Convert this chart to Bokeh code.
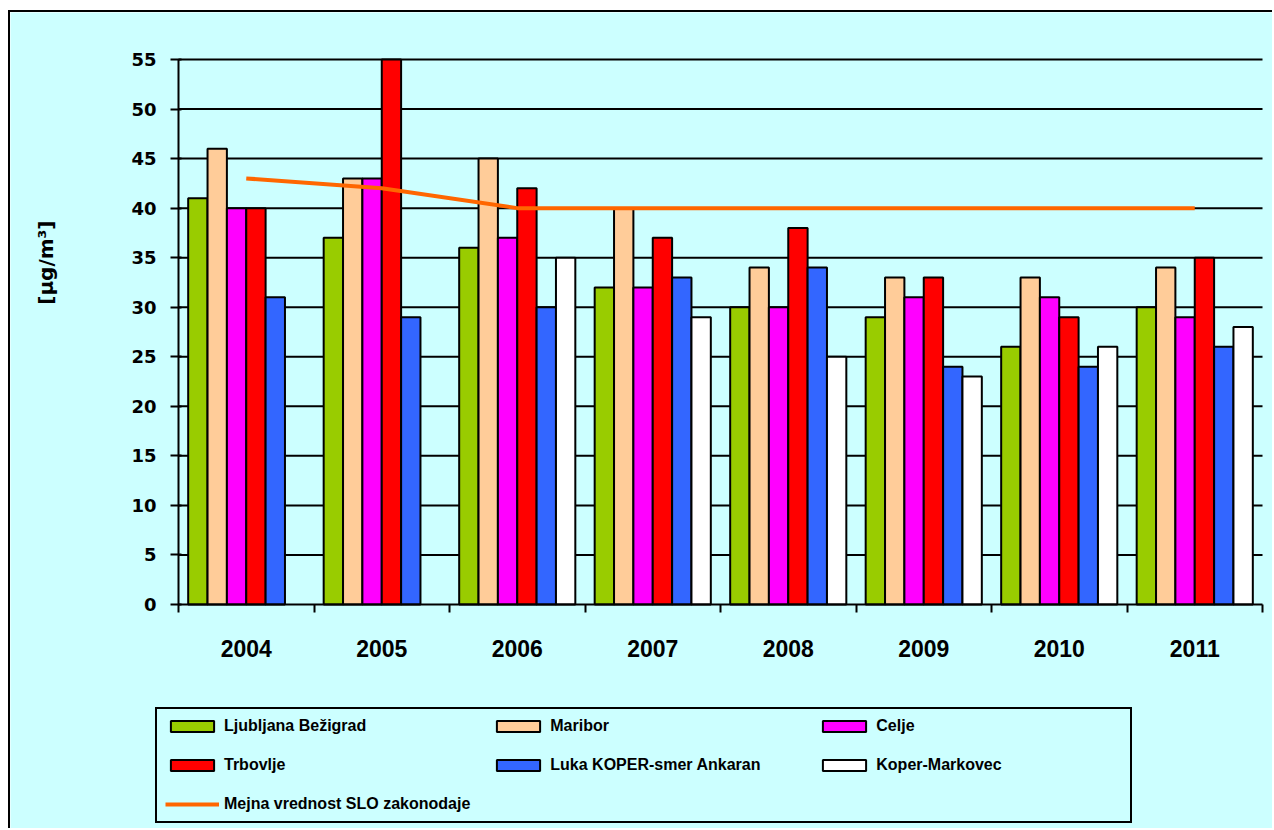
import math
from bokeh.plotting import figure
from bokeh.models import Range1d, FixedTicker, Legend, LegendItem, LinearAxis, Label
from bokeh.embed import file_html
from bokeh.resources import INLINE

years = ["2004", "2005", "2006", "2007", "2008", "2009", "2010", "2011"]
series_names = ["Ljubljana Bežigrad", "Maribor", "Celje", "Trbovlje",
                "Luka KOPER-smer Ankaran", "Koper-Markovec"]
ljubljana = [41, 37, 36, 32, 30, 29, 26, 30]
maribor = [46, 43, 45, 40, 34, 33, 33, 34]
celje = [40, 43, 37, 32, 30, 31, 31, 29]
trbovlje = [40, 55, 42, 37, 38, 33, 29, 35]
luka_koper = [31, 29, 30, 33, 34, 24, 24, 26]
koper_markovec = [None, None, 35, 29, 25, 23, 26, 28]
limit_name = "Mejna vrednost SLO zakonodaje"
limit_values = [43, 42, 40, 40, 40, 40, 40, 40]
y_ticks = [0, 5, 10, 15, 20, 25, 30, 35, 40, 45, 50, 55]
y_title = "[µg/m³]"

colors = ["#99CC00", "#FFCC99", "#FF00FF", "#FF0000", "#3366FF", "#FFFFFF"]
LIMIT_COLOR = "#FF6600"
all_series = [ljubljana, maribor, celje, trbovlje, luka_koper, koper_markovec]
BG = "#CCFFFF"

# canvas geometry (pixels): the plot area sits inside a frame that covers the canvas
W, H = 1264, 818
PX_LEFT, PX_RIGHT = 168, 1252     # x of category 0 and category 8
PX_TOP, PX_BOTTOM = 47, 592       # y of value 55 and value 0
ncat = len(years)
ymax_val = 55
sx = (PX_RIGHT - PX_LEFT) / ncat
sy = (PX_BOTTOM - PX_TOP) / ymax_val
x_range = Range1d(-PX_LEFT / sx, (W - PX_LEFT) / sx)
y_range = Range1d(-(H - PX_BOTTOM) / sy, PX_BOTTOM / sy)

p = figure(width=W, height=H, output_backend="svg", toolbar_location=None,
           x_range=x_range, y_range=y_range,
           x_axis_type=None, y_axis_type=None,
           min_border=0, min_border_left=0, min_border_right=0,
           min_border_top=0, min_border_bottom=0,
           background_fill_color=BG, border_fill_color=BG,
           outline_line_color=None)
p.margin = (10, 0, 0, 8)
p.styles = {"border-top": "2px solid black", "border-left": "2px solid black"}
p.xgrid.visible = False
p.ygrid.visible = False

# horizontal grid lines across the plot area only
grid_y = y_ticks[1:]
p.segment(x0=[0] * len(grid_y), x1=[ncat] * len(grid_y), y0=grid_y, y1=grid_y,
          line_color="black", line_width=2)

n = len(series_names)
step = 1.0 / (n + 1)
renderers = []
for j, (vals, col) in enumerate(zip(all_series, colors)):
    xs = [i + (j + 1) * step for i in range(ncat)]
    tops = [float("nan") if v is None else v for v in vals]
    r = p.vbar(x=xs, top=tops, width=step, bottom=0,
               fill_color=col, line_color="black", line_width=2)
    renderers.append(r)

centers = [i + 0.5 for i in range(ncat)]
rl = p.line(centers, limit_values, line_color=LIMIT_COLOR, line_width=4)

# x axis fixed at value 0
xa = LinearAxis(fixed_location=0, bounds=(0, ncat))
xa.ticker = FixedTicker(ticks=centers, minor_ticks=list(range(ncat + 1)))
xa.major_label_overrides = {c: y for c, y in zip(centers, years)}
xa.major_tick_line_color = None
xa.major_tick_out = 0
xa.major_tick_in = 0
xa.minor_tick_line_color = "black"
xa.minor_tick_line_width = 2
xa.minor_tick_out = 8
xa.minor_tick_in = 0
xa.axis_line_color = "black"
xa.axis_line_width = 2
xa.major_label_standoff = 27
xa.major_label_text_font = "Liberation Sans"
xa.major_label_text_font_style = "bold"
xa.major_label_text_font_size = "23px"
xa.major_label_text_color = "black"
p.add_layout(xa, "below")

# y axis fixed at category 0
ya = LinearAxis(fixed_location=0, bounds=(0, ymax_val))
ya.ticker = FixedTicker(ticks=y_ticks)
ya.minor_tick_line_color = None
ya.major_tick_line_color = "black"
ya.major_tick_line_width = 2
ya.major_tick_out = 8
ya.major_tick_in = 3
ya.axis_line_color = "black"
ya.axis_line_width = 2
ya.major_label_standoff = 14
ya.major_label_text_font = "DejaVu Sans"
ya.major_label_text_font_style = "bold"
ya.major_label_text_font_size = "18px"
ya.major_label_text_color = "black"
p.add_layout(ya, "left")

p.add_layout(Label(x=-0.98, y=34.5, text=y_title, angle=math.pi / 2,
                   text_align="center", text_baseline="middle",
                   text_font="DejaVu Sans", text_font_style="bold",
                   text_font_size="20px", text_color="black"))

items = [LegendItem(label=name, renderers=[r]) for name, r in zip(series_names, renderers)]
items.append(LegendItem(label=limit_name, renderers=[rl]))

lg = Legend(items=items, location=(145, 7), orientation="horizontal", ncols=3)
lg.border_line_color = "black"
lg.border_line_width = 2
lg.border_line_alpha = 1
lg.background_fill_color = BG
lg.background_fill_alpha = 1
lg.padding = 8
lg.spacing = 21
lg.margin = 0
lg.glyph_width = 54
lg.glyph_height = 14
lg.label_width = 246
lg.label_height = 17
lg.label_standoff = 5
lg.label_text_font = "Liberation Sans"
lg.label_text_font_style = "bold"
lg.label_text_font_size = "16px"
lg.label_text_color = "black"
p.add_layout(lg)

open("out.html", "w").write(file_html(p, INLINE))
